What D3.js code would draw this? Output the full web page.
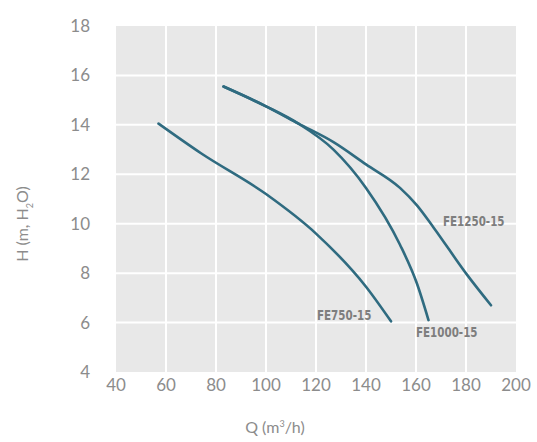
<!DOCTYPE html>
<html><head><meta charset="utf-8">
<script src="https://cdn.jsdelivr.net/npm/d3@7"></script>
<style>body{margin:0;background:#fff}</style>
</head><body>
<svg id="c" width="537" height="442"></svg>
<script>
const xTicks = [40,60,80,100,120,140,160,180,200];
const yTicks = [4,6,8,10,12,14,16,18];
const fe750 = [[57,14.05],[74,12.85],[100,11.2],[120,9.6],[140,7.45],[150,6.05]];
const fe1000 = [[83,15.55],[100,14.75],[113,14.05],[127,13.0],[140,11.45],[153.6,9.15],[160.3,7.6],[165,6.1]];
const fe1250 = [[83,15.55],[100,14.75],[113,14.05],[127,13.3],[140,12.4],[153.6,11.45],[160.3,10.75],[167,9.85],[180.3,7.95],[190,6.7]];
const seriesNames = ["FE750-15","FE1000-15","FE1250-15"];
const labelPos = [[120.4,6.3],[160,5.6],[170.8,10.1]];

const svg = d3.select("#c");
const x = d3.scaleLinear().domain([40,200]).range([116,516]);
const y = d3.scaleLinear().domain([4,18]).range([372,26]);
const font = "'Century Gothic','Lato','Open Sans',sans-serif";

svg.append("rect").attr("x",x(40)).attr("y",y(18)).attr("width",x(200)-x(40)).attr("height",y(4)-y(18)).attr("fill","#e8e8e8");
const g = svg.append("g");
g.selectAll("line.v").data(xTicks.slice(1,-1)).join("line")
  .attr("x1",d=>x(d)).attr("x2",d=>x(d)).attr("y1",y(18)).attr("y2",y(4))
  .attr("stroke","#fff").attr("stroke-width",2);
g.selectAll("line.h").data(yTicks.slice(1,-1)).join("line")
  .attr("y1",d=>y(d)).attr("y2",d=>y(d)).attr("x1",x(40)).attr("x2",x(200))
  .attr("stroke","#fff").attr("stroke-width",2);

svg.selectAll("text.xt").data(xTicks).join("text")
  .attr("x",d=>x(d)).attr("y",391).attr("text-anchor","middle")
  .attr("font-family",font).attr("font-size",17).attr("fill","#8c8c8c").text(d=>d);
svg.selectAll("text.yt").data(yTicks).join("text")
  .attr("x",90).attr("y",d=>y(d)+6).attr("text-anchor","end")
  .attr("font-family",font).attr("font-size",17).attr("fill","#8c8c8c").text(d=>d);

const xt = svg.append("text").attr("x",275).attr("y",433).attr("text-anchor","middle")
  .attr("font-family",font).attr("font-size",16).attr("fill","#8c8c8c");
xt.append("tspan").text("Q (m");
xt.append("tspan").attr("font-size",9).attr("dy",-6).text("3");
xt.append("tspan").attr("dy",6).text("/h)");

const yt = svg.append("text").attr("transform","translate(28,224) rotate(-90)").attr("text-anchor","middle")
  .attr("font-family",font).attr("font-size",16).attr("fill","#8c8c8c");
yt.append("tspan").text("H (m, H");
yt.append("tspan").attr("font-size",9).attr("dy",5).text("2");
yt.append("tspan").attr("dy",-5).text("O)");

const line = d3.line().x(d=>x(d[0])).y(d=>y(d[1])).curve(d3.curveMonotoneX);
[fe750,fe1000,fe1250].forEach(s=>{
  svg.append("path").attr("d",line(s)).attr("fill","none")
    .attr("stroke","#2f6b80").attr("stroke-width",2.6).attr("stroke-linecap","round");
});
svg.selectAll("text.lab").data(seriesNames).join("text")
  .attr("x",0).attr("y",0)
  .attr("font-family","'DejaVu Sans Condensed','Liberation Sans Narrow',sans-serif")
  .attr("font-size",14).attr("font-weight","bold").attr("fill","#7e7e7e")
  .attr("transform",(d,i)=>`translate(${x(labelPos[i][0])},${y(labelPos[i][1])+5}) scale(0.82,1)`)
  .text(d=>d);
</script>
</body></html>
